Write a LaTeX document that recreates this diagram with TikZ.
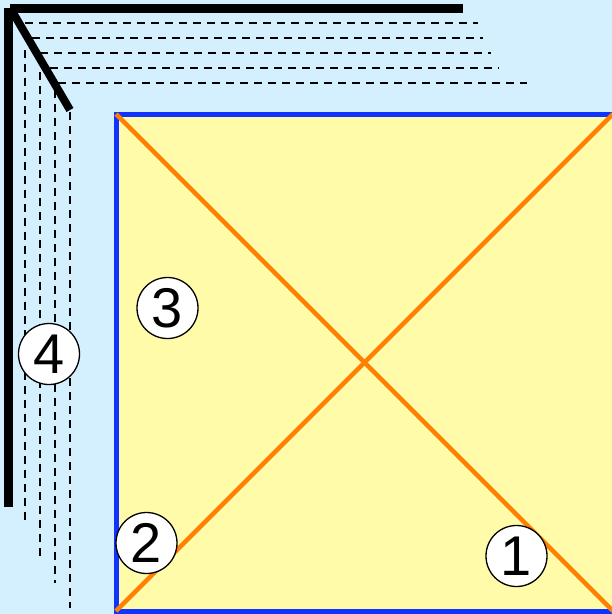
\documentclass[tikz,border=0pt]{standalone}
\usepackage{fontspec}
\setmainfont{Liberation Sans}
\definecolor{bgblue}{HTML}{D4F0FF}
\definecolor{sqyellow}{HTML}{FFFBA8}
\definecolor{sqblue}{HTML}{1133FF}
\definecolor{diagorange}{HTML}{FF8000}
\tikzset{
  thickbar/.style={line width=9pt, black},
  guide/.style={line width=1.5pt, black, dash pattern=on 8pt off 6pt},
  numcircle/.style={circle, draw=black, line width=1.3pt, fill=white, minimum size=61pt, inner sep=0pt,
    font=\fontsize{56}{56}\selectfont},
}
\begin{document}
\begin{tikzpicture}[x=1pt,y=-1pt]
\useasboundingbox (0,0) rectangle (612,614);
\fill[bgblue] (0,0) rectangle (612,614);
% square
\begin{scope}
\clip (0,0) rectangle (612,614);
\filldraw[fill=sqyellow, draw=sqblue, line width=5pt] (116,114) rectangle (616,611);
\coordinate (tl) at (116,114);
\coordinate (tr) at (613,114);
\coordinate (bl) at (116,611);
\coordinate (br) at (613,611);
\draw[diagorange, line width=4.5pt] (tl) -- (br);
\draw[diagorange, line width=4.5pt] (bl) -- (tr);
\end{scope}
% dashed guides
\draw[guide] (25,23) -- (478,23);
\draw[guide] (32,38) -- (483,38);
\draw[guide] (40,53) -- (491,53);
\draw[guide] (50,68) -- (499,68);
\draw[guide] (58,83) -- (527,83);
\draw[guide] (25,50) -- (25,520);
\draw[guide] (40,72) -- (40,557);
\draw[guide] (55,90) -- (55,583);
\draw[guide] (70,112) -- (70,608);
% thick black
\draw[thickbar] (8.5,8) -- (8.5,507);
\draw[thickbar] (10,8) -- (463,8);
\draw[line width=8pt, black] (12,11) -- (70,110);
% numbers
\node[numcircle] (n4) at (49,354) {4};
\node[numcircle] (n3) at (167.5,308) {3};
\node[numcircle] (n2) at (146.5,543) {2};
\node[numcircle] (n1) at (516.5,556) {1};
\end{tikzpicture}
\end{document}
